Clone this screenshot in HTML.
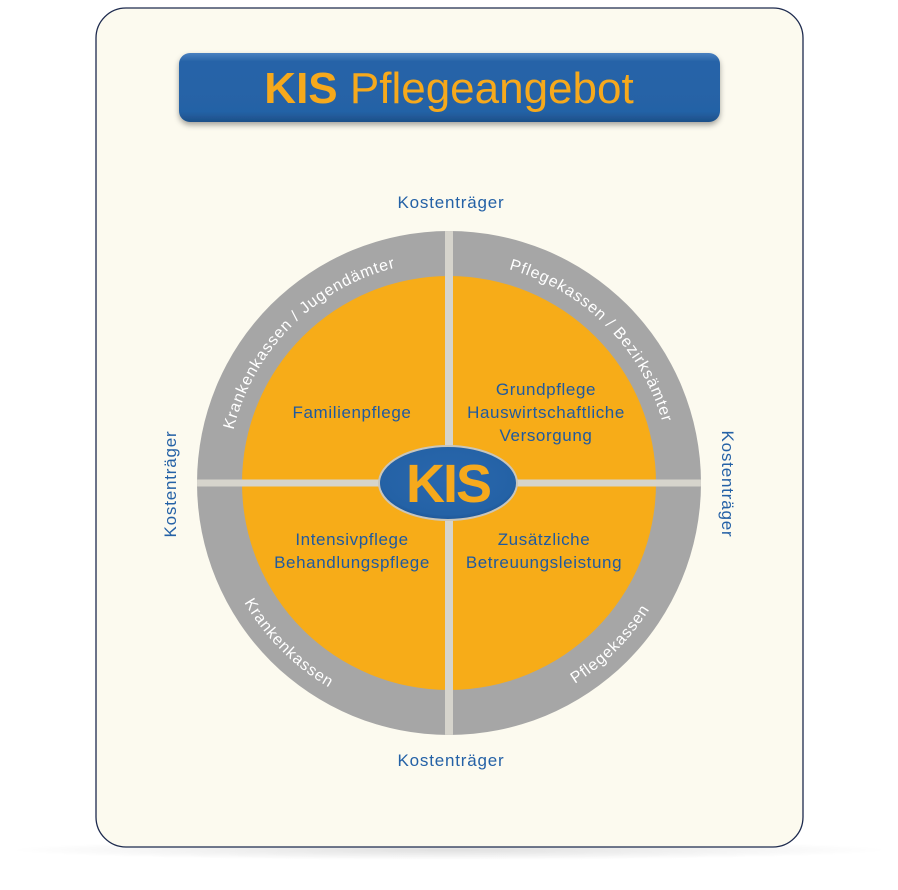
<!DOCTYPE html>
<html><head><meta charset="utf-8"><style>
html,body{margin:0;padding:0;background:#fff;width:898px;height:890px;overflow:hidden}
svg{display:block}
text{font-family:"Liberation Sans","DejaVu Sans",sans-serif}
</style></head><body>
<svg width="898" height="890" viewBox="0 0 898 890" xmlns="http://www.w3.org/2000/svg">
<defs>
<linearGradient id="tb" x1="0" y1="0" x2="0" y2="1">
<stop offset="0" stop-color="#4a80c0"/><stop offset="0.12" stop-color="#2864a8"/><stop offset="0.85" stop-color="#2462a6"/><stop offset="1" stop-color="#1d4f88"/>
</linearGradient>
<radialGradient id="el" cx="0.5" cy="0.45" r="0.6">
<stop offset="0" stop-color="#2a67ad"/><stop offset="0.8" stop-color="#2462a6"/><stop offset="1" stop-color="#1a4e8a"/>
</radialGradient>
<radialGradient id="sh" cx="0.5" cy="0.5" r="0.5">
<stop offset="0" stop-color="#000" stop-opacity="0.12"/><stop offset="1" stop-color="#000" stop-opacity="0"/>
</radialGradient>
<clipPath id="cc"><circle cx="449" cy="483" r="252"/></clipPath>
<filter id="ds" x="-10%" y="-20%" width="120%" height="160%"><feDropShadow dx="0" dy="3" stdDeviation="3" flood-color="#000" flood-opacity="0.35"/></filter>
<path id="aTL" d="M 227 483 A 222 222 0 0 1 449 261"/>
<path id="aTR" d="M 449 261 A 222 222 0 0 1 671 483"/>
<path id="aBL" d="M 212 483 A 237 237 0 0 0 449 720"/>
<path id="aBR" d="M 449 720 A 237 237 0 0 0 686 483"/>
</defs>
<ellipse cx="449" cy="850" rx="440" ry="10" fill="url(#sh)"/>
<rect x="96" y="8" width="707" height="839" rx="30" ry="30" fill="#fcfaef" stroke="#1d2a4e" stroke-width="1.3"/>
<rect x="179" y="53" width="541" height="69" rx="11" fill="url(#tb)" filter="url(#ds)"/>
<text x="449" y="103" text-anchor="middle" font-size="44" fill="#f6a91c"><tspan font-weight="bold">KIS</tspan> Pflegeangebot</text>

<circle cx="449" cy="483" r="252" fill="#a6a6a6"/>
<circle cx="449" cy="483" r="207" fill="#f7ac18"/>
<g clip-path="url(#cc)">
<rect x="445" y="228" width="8" height="510" fill="#d6d4cc"/>
<rect x="194" y="479.5" width="510" height="7" fill="#d6d4cc"/>
</g>
<ellipse cx="448" cy="483" rx="69" ry="37" fill="url(#el)" stroke="#c9c6bc" stroke-width="2"/>
<text x="448" y="502" text-anchor="middle" font-size="54" font-weight="bold" fill="#f6a91c" letter-spacing="-2">KIS</text>

<g font-size="17" fill="#1f5aa0" text-anchor="middle" letter-spacing="0.6">
<text x="352" y="418">Familienpflege</text>
<text x="546" y="395">Grundpflege</text>
<text x="546" y="418">Hauswirtschaftliche</text>
<text x="546" y="441">Versorgung</text>
<text x="352" y="545">Intensivpflege</text>
<text x="352" y="568">Behandlungspflege</text>
<text x="544" y="545">Zusätzliche</text>
<text x="544" y="568">Betreuungsleistung</text>
</g>

<g font-size="16" fill="#ffffff" letter-spacing="0.9">
<text><textPath href="#aTL" startOffset="50%" text-anchor="middle">Krankenkassen / Jugendämter</textPath></text>
<text><textPath href="#aTR" startOffset="50%" text-anchor="middle">Pflegekassen / Bezirksämter</textPath></text>
<text><textPath href="#aBL" startOffset="50%" text-anchor="middle">Krankenkassen</textPath></text>
<text><textPath href="#aBR" startOffset="50%" text-anchor="middle">Pflegekassen</textPath></text>
</g>

<g font-size="17" fill="#2461a6" text-anchor="middle" letter-spacing="0.8">
<text x="451" y="208">Kostenträger</text>
<text x="451" y="766">Kostenträger</text>
<text transform="translate(176,484) rotate(-90)">Kostenträger</text>
<text transform="translate(722,484) rotate(90)">Kostenträger</text>
</g>
</svg>
</body></html>
